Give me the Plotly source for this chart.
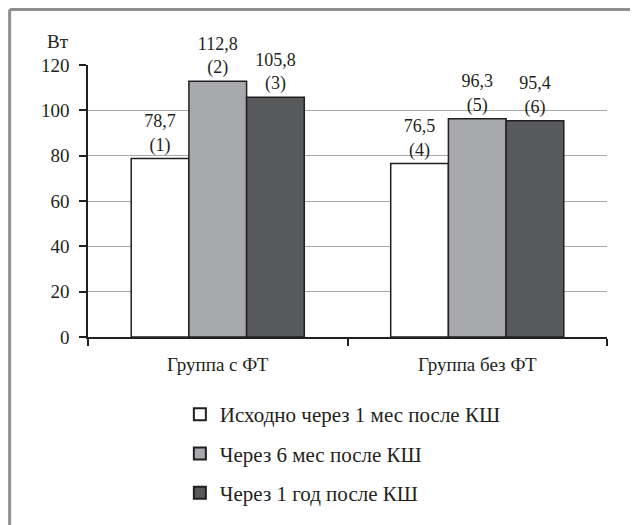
import plotly.graph_objects as go

categories = ["Группа с ФТ", "Группа без ФТ"]
series_names = ["Исходно через 1 мес после КШ", "Через 6 мес после КШ", "Через 1 год после КШ"]
baseline = [78.7, 76.5]
month6 = [112.8, 96.3]
year1 = [105.8, 95.4]
point_ids = [["(1)", "(4)"], ["(2)", "(5)"], ["(3)", "(6)"]]
y_ticks = [0, 20, 40, 60, 80, 100, 120]
unit_label = "Вт"

colors = ["#ffffff", "#a7a9ac", "#58595b"]
edge = "#231f20"
font_family = "Liberation Serif"

fig = go.Figure()
for name, vals, ids, col in zip(series_names, [baseline, month6, year1], point_ids, colors):
    fig.add_trace(go.Bar(
        x=categories, y=vals, name=name,
        marker=dict(color=col, line=dict(color=edge, width=1.5)),
        text=[f"{v:.1f}".replace(".", ",") + "<br>" + i for v, i in zip(vals, ids)],
        textposition="outside", cliponaxis=False, constraintext="none",
        textfont=dict(family=font_family, size=18, color=edge),
        showlegend=False,
    ))
    fig.add_trace(go.Scatter(
        x=[None], y=[None], mode="markers", name=name,
        marker=dict(symbol="square", size=16, color=col, line=dict(color=edge, width=1.5)),
        legendgroup=name,
    ))

fig.update_layout(
    width=630, height=517,
    margin=dict(l=80, r=31, t=57, b=188, autoexpand=False),
    paper_bgcolor="white", plot_bgcolor="white",
    barmode="group", bargap=0.333, bargroupgap=0,
    font=dict(family=font_family, size=18, color=edge),
    showlegend=True,
    legend=dict(x=0.177, y=-0.21, xanchor="left", yanchor="top", orientation="v",
                font=dict(family=font_family, size=21, color=edge),
                tracegroupgap=9, itemsizing="constant", bgcolor="rgba(0,0,0,0)"),
    xaxis=dict(showline=True, linecolor=edge, linewidth=1.5, ticks="outside", tickson="boundaries",
               ticklen=7, tickwidth=1.5, tickcolor=edge, showgrid=False, zeroline=False,
               tickangle=0, tickfont=dict(size=19), ticklabelstandoff=9),
    yaxis=dict(range=[0, 120], tickvals=y_ticks, showline=True, linecolor=edge, linewidth=1.5,
               ticks="outside", ticklen=7, tickwidth=1.5, tickcolor=edge,
               showgrid=True, gridcolor="#a8a8a8", gridwidth=1, zeroline=False,
               tickfont=dict(size=19), ticklabelstandoff=6),
    annotations=[dict(text=unit_label, xref="paper", yref="paper", x=-0.058, y=1.085,
                      xanchor="center", yanchor="middle", showarrow=False,
                      font=dict(family=font_family, size=19, color=edge))],
    shapes=[dict(type="line", xref="paper", yref="paper", x0=-0.151, x1=1.2, y0=1.204, y1=1.204,
                 line=dict(color="#8f8f8f", width=3)),
            dict(type="line", xref="paper", yref="paper", x0=-0.151, x1=-0.151, y0=1.204, y1=-0.8,
                 line=dict(color="#8f8f8f", width=3))],
)

fig.write_html("out.html")
